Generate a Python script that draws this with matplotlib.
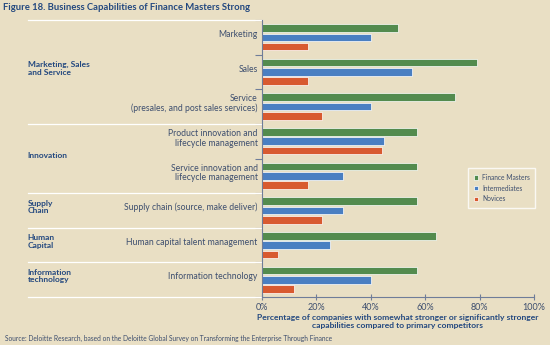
import numpy as np
import matplotlib.pyplot as plt

# values (percent)
items = ["Marketing", "Sales", "Service\n(presales, and post sales services)",
         "Product innovation and\nlifecycle management",
         "Service innovation and\nlifecycle management",
         "Supply chain (source, make deliver)",
         "Human capital talent management", "Information technology"]
groups = ["Marketing, Sales\nand Service", "Innovation", "Supply\nChain",
          "Human\nCapital", "Information\ntechnology"]
group_spans = [(0, 2), (3, 4), (5, 5), (6, 6), (7, 7)]
series = ["Finance Masters", "Intermediates", "Novices"]
masters = [50, 79, 71, 57, 57, 57, 64, 57]
intermediates = [40, 55, 40, 45, 30, 30, 25, 40]
novices = [17, 17, 22, 44, 17, 22, 6, 12]
xticks = [0, 20, 40, 60, 80, 100]

bg = "#e9dfc4"
colors = ["#538b4e", "#4a7fc2", "#d85a30"]
navy = "#23487f"
txt = "#3d4e6e"
axc = "#6f7d99"

plt.rcParams["font.family"] = ["Lato", "DejaVu Sans"]
fig = plt.figure(figsize=(5.5, 3.45), dpi=100, facecolor=bg)
ax = fig.add_axes([0.476, 0.139, 0.495, 0.803])
ax.set_facecolor(bg)

y = np.arange(len(items))
offs = [-0.27, 0, 0.27]
for vals, off, c, name in zip([masters, intermediates, novices], offs, colors, series):
    ax.barh(y + off, vals, height=0.22, color=c, edgecolor="white", linewidth=0.5, label=name)

ax.set_xlim(0, 100)
ax.set_ylim(len(items) - 0.5, -0.5)
ax.set_xticks(xticks)
ax.set_xticklabels([f"{v}%" for v in xticks], fontsize=6.5, color=txt)
ax.set_yticks(np.arange(-0.5, len(items), 1))
ax.set_yticklabels([])
ax.tick_params(axis="y", length=5, color=axc, width=0.8)
ax.tick_params(axis="x", length=4, direction="inout", color=axc, width=0.8, pad=2)
for s in ["top", "right"]:
    ax.spines[s].set_visible(False)
for s in ["left", "bottom"]:
    ax.spines[s].set_color(axc)
    ax.spines[s].set_linewidth(0.8)

for i, lab in enumerate(items):
    ax.text(-0.015, i - 0.08, lab, transform=ax.get_yaxis_transform(), ha="right",
            va="center", fontsize=6.2, color=txt, linespacing=1.05)

x_left = (28 - 262) / 272
for (a, b), g in zip(group_spans, groups):
    ax.text(x_left, (a + b) / 2 - 0.1, g, transform=ax.get_yaxis_transform(), ha="left",
            va="center", fontsize=6.0, color=navy, fontweight="bold", linespacing=1.05)
for b in [-0.5, 2.5, 4.5, 5.5, 6.5, 7.5]:
    ax.plot([x_left, 0], [b, b], transform=ax.get_yaxis_transform(), color="white",
            linewidth=0.9, clip_on=False)

ax.set_xlabel("Percentage of companies with somewhat stronger or significantly stronger\n"
              "capabilities compared to primary competitors", fontsize=6.1, color=navy,
              fontweight="bold", labelpad=2, linespacing=1.05)

leg = ax.legend(loc="upper left", bbox_to_anchor=(0.746, 0.477), fontsize=4.8, frameon=True,
                facecolor=bg, edgecolor="white", handlelength=0.6, handleheight=0.6,
                handletextpad=0.6, labelspacing=0.55, borderpad=0.85, fancybox=False)
leg.get_frame().set_linewidth(1)
for t in leg.get_texts():
    t.set_color(txt)

fig.text(0.006, 0.978, "Figure 18. Business Capabilities of Finance Masters Strong", fontsize=6.85,
         fontweight="bold", color=navy, ha="left", va="center")
fig.text(0.009, 0.02, "Source: Deloitte Research, based on the Deloitte Global Survey on "
         "Transforming the Enterprise Through Finance", fontsize=4.75, color=txt,
         ha="left", va="center")

fig.savefig("out.png", dpi=100, facecolor=bg)
